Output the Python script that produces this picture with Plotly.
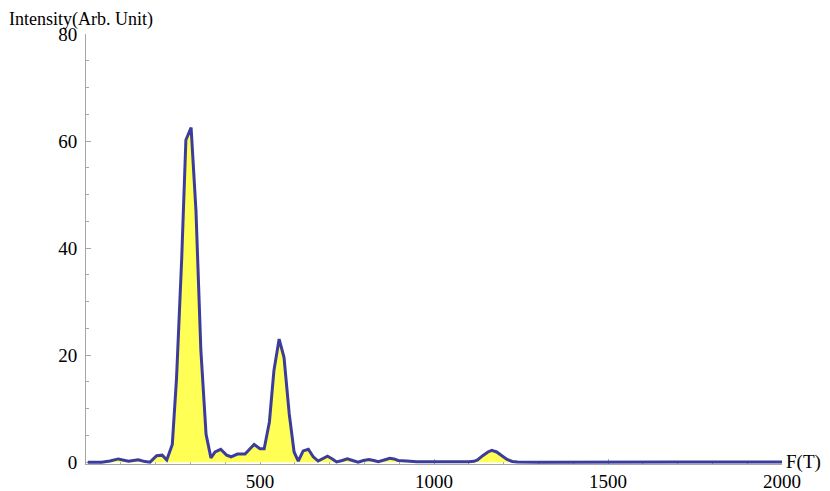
import plotly.graph_objects as go

# frequency (T) and intensity
freq = [
    5, 45, 69, 93, 122, 150, 170, 184, 203, 219, 232, 248, 260, 275, 287,
    302, 316, 330, 345, 359, 371, 387, 404, 417, 435, 446, 457, 470, 483,
    500, 512, 527, 540, 555, 569, 584, 598, 610, 624, 639, 653, 667, 681,
    694, 708, 720, 736, 751, 766, 782, 797, 813, 827, 840, 857, 873, 885,
    897, 921, 950, 980, 1000, 1040, 1080, 1100, 1115, 1125, 1140, 1155,
    1166, 1180, 1195, 1210, 1225, 1240, 1300, 1400, 1480, 1510, 1530,
    1560, 1600, 1700, 1800, 1900, 2000,
]
intensity = [
    0.0, 0.0, 0.2, 0.6, 0.15, 0.45, 0.1, 0.0, 1.2, 1.3, 0.4, 3.3, 15.5,
    38.0, 60.2, 62.5, 47.0, 21.0, 5.2, 0.8, 1.9, 2.4, 1.3, 1.0, 1.5, 1.5,
    1.5, 2.4, 3.3, 2.5, 2.5, 7.5, 17.1, 23.0, 19.6, 9.0, 1.9, 0.2, 2.1,
    2.4, 1.0, 0.2, 0.7, 1.1, 0.6, 0.05, 0.3, 0.6, 0.3, 0.0, 0.3, 0.5, 0.3,
    0.1, 0.4, 0.7, 0.6, 0.3, 0.2, 0.05, 0.05, 0.05, 0.0, 0.03, 0.05, 0.15,
    0.4, 1.2, 1.9, 2.2, 1.9, 1.2, 0.5, 0.12, 0.02, 0.0, 0.02, 0.05, 0.12,
    0.1, 0.05, 0.02, 0.03, 0.02, 0.02, 0.02,
]

x_ticks = [500, 1000, 1500, 2000]
y_ticks = [0, 20, 40, 60, 80]

serif = "Liberation Serif, Times New Roman, serif"
axis_gray = "#a6a6a6"

# the page body adds an 8px offset, so the figure is sized to fit inside it
fig_w, fig_h = 822, 483
m_l, m_r, m_t, m_b = 78, 48, 26, 27
plot_h = fig_h - m_t - m_b

fig = go.Figure()
fig.add_trace(
    go.Scatter(
        x=freq,
        y=intensity,
        mode="lines",
        fill="tozeroy",
        fillcolor="#ffff55",
        line=dict(color="#3c3c9c", width=3),
        hoverinfo="skip",
    )
)

axis_common = dict(
    showgrid=False,
    zeroline=False,
    showline=True,
    linecolor=axis_gray,
    linewidth=1,
    ticks="inside",
    ticklen=5,
    tickcolor=axis_gray,
    tickwidth=1,
    tickfont=dict(family=serif, size=19, color="black"),
    layer="below traces",
    automargin=False,
)

fig.update_layout(
    width=fig_w,
    height=fig_h,
    margin=dict(l=m_l, r=m_r, t=m_t, b=m_b),
    paper_bgcolor="white",
    plot_bgcolor="white",
    showlegend=False,
    xaxis=dict(
        range=[0, 2000],
        tickvals=x_ticks,
        ticklabelstandoff=0,
        minor=dict(dtick=100, tick0=0, ticks="inside", ticklen=3,
                   tickcolor=axis_gray),
        **axis_common,
    ),
    yaxis=dict(
        range=[-0.35, 80],
        tickvals=y_ticks,
        ticklabelstandoff=4,
        minor=dict(dtick=5, tick0=0, ticks="inside", ticklen=3,
                   tickcolor=axis_gray),
        **axis_common,
    ),
    annotations=[
        dict(
            text="Intensity(Arb. Unit)",
            xref="paper", yref="paper",
            x=-m_l / (fig_w - m_l - m_r), y=1 + m_t / plot_h,
            xanchor="left", yanchor="top",
            borderpad=0,
            showarrow=False,
            font=dict(family=serif, size=18, color="black"),
        ),
        dict(
            text="F(T)",
            xref="paper", yref="y",
            x=1.0, y=0,
            xanchor="left", yanchor="middle",
            xshift=3,
            borderpad=0,
            showarrow=False,
            font=dict(family=serif, size=19, color="black"),
        ),
    ],
)

fig.write_html("out.html")
